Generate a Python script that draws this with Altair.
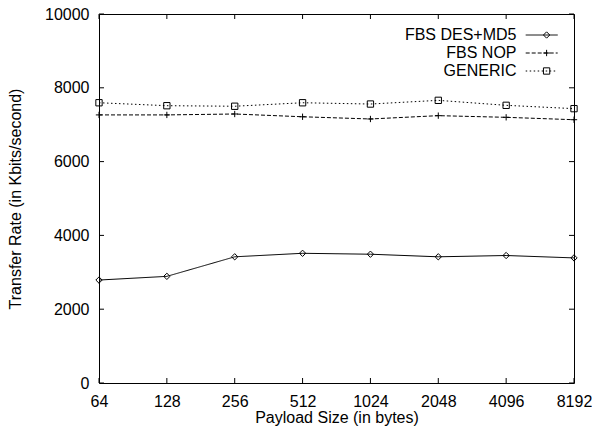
import altair as alt
import pandas as pd

# Transfer rate (Kbits/second) per payload size for each method
payload_sizes = [64, 128, 256, 512, 1024, 2048, 4096, 8192]
des_md5 = [2790, 2890, 3420, 3515, 3490, 3420, 3455, 3390]
fbs_nop = [7265, 7265, 7290, 7215, 7155, 7245, 7200, 7135]
generic = [7595, 7515, 7500, 7595, 7560, 7660, 7525, 7435]
series_names = ["FBS DES+MD5", "FBS NOP", "GENERIC"]
y_ticks = [0, 2000, 4000, 6000, 8000, 10000]

rows = []
for name, vals in zip(series_names, [des_md5, fbs_nop, generic]):
    for s, v in zip(payload_sizes, vals):
        rows.append({"size": s, "rate": v, "series": name, "marker": name})
df = pd.DataFrame(rows)

W, H = 475, 369
FONT = "Liberation Sans"
TICK = 5

x_scale = alt.Scale(type="log", base=2, domain=[64, 8192], nice=False)
y_scale = alt.Scale(domain=[0, 10000], nice=False)

x_axis = alt.Axis(
    values=payload_sizes, format="d", title="Payload Size (in bytes)",
    tickSize=0, labelPadding=10, titlePadding=0, domain=False, grid=False,
    labelFlush=False, labelOverlap=False,
)
y_axis = alt.Axis(
    values=y_ticks, format="d", title="Transfer Rate (in Kbits/second)",
    tickSize=0, labelPadding=10, titlePadding=21, domain=False, grid=False,
    labelFlush=False, labelOverlap=False,
)

x_enc = alt.X("size:Q", scale=x_scale, axis=x_axis)
y_enc = alt.Y("rate:Q", scale=y_scale, axis=y_axis)

dash_scale = alt.Scale(domain=series_names, range=[[1, 0], [4, 2], [1.5, 2.5]])
# marker domain comes from the data (alphabetical, same order as series_names)
shape_scale = alt.Scale(range=["diamond", "M-1,0L1,0M0,-1L0,1", "square"])

# legend line sample: a short stroke drawn to the right of its (right-aligned) label
SAMPLE_PATH = "M4.3,0L12.3,0"

lines = alt.Chart(df).mark_line(color="black", strokeWidth=1).encode(
    x=x_enc,
    y=y_enc,
    strokeDash=alt.StrokeDash(
        "series:N", scale=dash_scale, title=None,
        legend=alt.Legend(
            orient="none", legendX=401.5, legendY=13, padding=0,
            symbolType=SAMPLE_PATH, symbolSize=64, symbolStrokeWidth=1,
            symbolStrokeColor="black", symbolFillColor="transparent",
            labelAlign="right", labelOffset=0,
            labelFont=FONT, labelFontSize=16, labelColor="black",
            labelLimit=0,
        ),
    ),
)

# marker samples overlaid on the centre of each legend line
points = alt.Chart(df).mark_point(
    filled=False, color="black", strokeWidth=1, size=40, opacity=1
).encode(
    x=x_enc,
    y=y_enc,
    shape=alt.Shape(
        "marker:N", scale=shape_scale, title=None,
        legend=alt.Legend(
            orient="none", legendX=439.6, legendY=13, padding=0,
            symbolSize=40, symbolStrokeWidth=1, symbolStrokeColor="black",
            symbolFillColor="transparent", labelExpr="''", labelAlign="right",
            labelFont=FONT, labelFontSize=16,
        ),
    ),
)

# inward tick marks on all four sides of the frame
x_tick_df = pd.DataFrame({"size": payload_sizes})
y_tick_df = pd.DataFrame({"rate": y_ticks})

x_ticks_bottom = alt.Chart(x_tick_df).mark_rule(color="black", strokeWidth=1).encode(
    x=x_enc, y=alt.value(H), y2=alt.value(H - TICK)
)
x_ticks_top = alt.Chart(x_tick_df).mark_rule(color="black", strokeWidth=1).encode(
    x=x_enc, y=alt.value(0), y2=alt.value(TICK)
)
y_ticks_left = alt.Chart(y_tick_df).mark_rule(color="black", strokeWidth=1).encode(
    y=y_enc, x=alt.value(0), x2=alt.value(TICK)
)
y_ticks_right = alt.Chart(y_tick_df).mark_rule(color="black", strokeWidth=1).encode(
    y=y_enc, x=alt.value(W - TICK), x2=alt.value(W)
)

chart = alt.layer(
    lines, points, x_ticks_bottom, x_ticks_top, y_ticks_left, y_ticks_right
).properties(
    width=W,
    height=H,
    autosize=alt.AutoSizeParams(type="none"),
    padding={"left": 99, "top": 14, "right": 18, "bottom": 47},
    background="white",
).configure_view(
    stroke="black", strokeWidth=1
).configure_axis(
    labelFont=FONT, labelFontSize=16, labelColor="black",
    titleFont=FONT, titleFontSize=16, titleColor="black", titleFontWeight="normal",
).configure_legend(
    labelFont=FONT, labelFontSize=16, labelColor="black",
)

chart.save("out.html", embed_options={"renderer": "svg", "actions": False})
